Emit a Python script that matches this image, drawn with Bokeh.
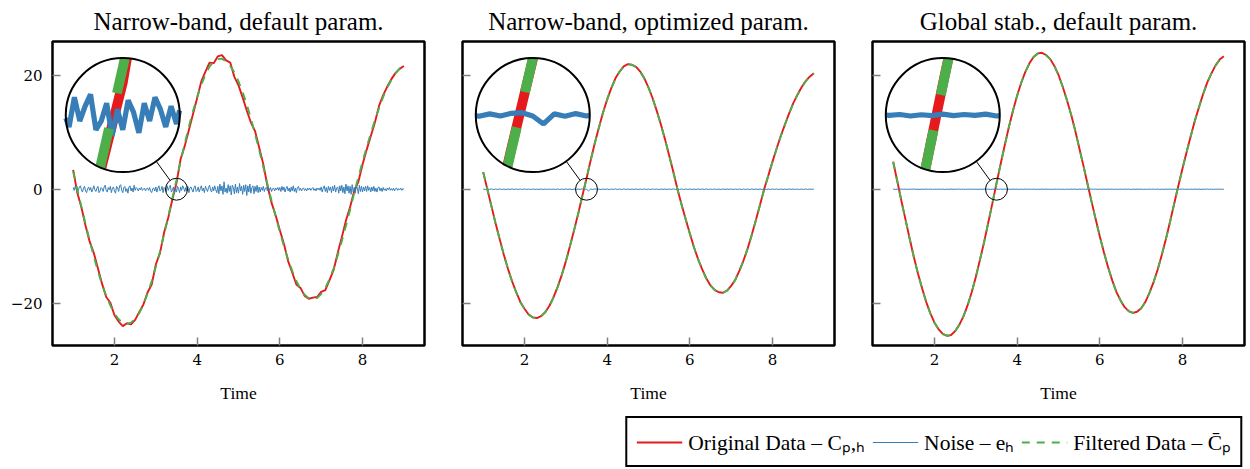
import numpy as np
from bokeh.plotting import figure
from bokeh.layouts import row, column
from bokeh.models import FixedTicker, Legend, LegendItem
from bokeh.core.properties import value
from bokeh.embed import file_html
from bokeh.resources import INLINE

# ---------------- data ----------------
TITLES = ["Narrow-band, default param.",
          "Narrow-band, optimized param.",
          "Global stab., default param."]
X_TICKS = [2, 4, 6, 8]
Y_TICKS = [-20, 0, 20]
Y_TICK_LABELS = {-20: "\u221220", 0: "0", 20: "20"}
X_LABEL = "Time"
LEGEND_LABELS = ["Original Data \u2013 C\u209a,\u2095",
                 "Noise \u2013 e\u2095",
                 "Filtered Data \u2013 C\u0304\u209a"]

# time grid of the filtered data (every 0.1)
time_coarse = np.linspace(1.0, 9.0, 81)

filtered_default = [
    3.1, 0.0, -3.1, -6.1, -9.0, -11.8, -14.4, -16.7, -18.7, -20.4,
    -21.8, -22.8, -23.4, -23.6, -23.4, -22.7, -21.7, -20.2, -18.3, -16.1,
    -13.6, -10.9, -7.9, -4.8, -1.6, 1.6, 4.9, 8.0, 11.0, 13.7,
    16.2, 18.3, 20.1, 21.5, 22.4, 22.8, 22.9, 22.4, 21.6, 20.5,
    18.9, 17.0, 14.9, 12.4, 9.7, 6.9, 3.9, 0.9, -2.0, -4.8,
    -7.5, -10.0, -12.3, -14.3, -16.1, -17.5, -18.5, -19.1, -19.3, -19.1,
    -18.4, -17.3, -15.8, -13.9, -11.6, -9.1, -6.4, -3.6, -0.6, 2.1,
    4.8, 7.3, 9.8, 12.1, 14.2, 16.2, 17.8, 19.2, 20.3, 21.2,
    21.6]

filtered_optimized = [
    3.0, 0.0, -3.0, -6.0, -8.8, -11.5, -14.0, -16.2, -18.1, -19.8,
    -21.0, -22.0, -22.5, -22.6, -22.3, -21.6, -20.5, -19.0, -17.2, -15.1,
    -12.7, -10.0, -7.2, -4.3, -1.2, 1.9, 5.0, 8.0, 10.8, 13.4,
    15.7, 17.7, 19.4, 20.6, 21.5, 21.9, 21.8, 21.4, 20.6, 19.4,
    17.8, 15.9, 13.7, 11.3, 8.7, 5.9, 3.0, 0.0, -2.7, -5.3,
    -7.8, -10.2, -12.3, -14.1, -15.7, -16.9, -17.7, -18.1, -18.2, -17.8,
    -17.0, -15.9, -14.3, -12.5, -10.4, -8.0, -5.4, -2.7, 0.0, 2.4,
    4.8, 7.1, 9.3, 11.3, 13.2, 15.0, 16.5, 17.8, 18.9, 19.7,
    20.3]

filtered_global = [
    4.8, 1.4, -2.1, -5.4, -8.7, -11.9, -14.8, -17.4, -19.8, -21.8,
    -23.4, -24.6, -25.4, -25.7, -25.6, -24.9, -23.8, -22.3, -20.4, -18.1,
    -15.4, -12.4, -9.3, -5.9, -2.5, 1.0, 4.4, 7.7, 10.9, 13.8,
    16.4, 18.7, 20.6, 22.1, 23.2, 23.8, 23.9, 23.5, 22.8, 21.6,
    20.0, 18.0, 15.7, 13.2, 10.4, 7.3, 4.2, 1.0, -2.2, -5.3,
    -8.3, -11.1, -13.7, -16.0, -18.0, -19.5, -20.7, -21.4, -21.7, -21.5,
    -20.9, -19.8, -18.2, -16.3, -14.1, -11.5, -8.7, -5.7, -2.5, 0.6,
    3.6, 6.5, 9.3, 12.0, 14.4, 16.7, 18.7, 20.3, 21.7, 22.7,
    23.3]

# noise, default parameters: every 0.025 from 1 to 9 (321 values)
noise_default = [
    0.3, -0.2, 0.5, 0.1, -0.6, -0.2, 0.4, 0.6, -0.1, -0.5,
    0.2, 0.5, -0.3, -0.6, 0.1, 0.4, -0.2, 0.3, -0.5, 0.0,
    0.6, -0.1, -0.4, 0.2, 0.5, -0.6, -0.3, 0.3, 0.1, -0.4,
    0.4, 0.7, -0.2, -0.5, 0.3, -0.1, 0.5, -0.6, 0.2, 0.4,
    -0.3, -0.7, 0.5, 0.2, -0.4, 0.6, 0.8, -0.2, -0.6, 0.3,
    0.5, -0.4, 0.1, -0.7, 0.4, 0.6, -0.3, 0.2, -0.5, 0.7,
    -0.2, 0.3, 0.1, -0.3, 0.2, -0.1, 0.3, -0.2, 0.0, 0.2,
    -0.3, 0.1, 0.2, -0.2, 0.3, -0.4, -0.6, 0.1, 0.2, -0.3,
    0.4, -0.5, 0.2, 0.6, -0.3, -0.1, 0.5, -0.6, 0.3, 0.1,
    -0.4, 0.6, -0.2, 0.3, 0.7, -0.5, -0.2, 0.4, -0.7, 0.2,
    -0.5, 0.5, 0.1, -0.6, 0.4, -0.2, 0.6, 0.2, -0.4, 0.3,
    -0.3, 0.5, -0.6, 0.2, 0.4, -0.1, -0.5, 0.3, 0.6, -0.4,
    -0.2, 0.4, -0.5, 0.1, 0.6, -0.3, 0.2, -0.6, 0.5, 0.1,
    -0.4, 0.3, 0.7, -0.2, -0.5, 0.4, -0.3, 0.6, -0.1, -0.6,
    0.5, -0.8, 0.9, -0.3, 0.6, -0.9, 1.3, -0.5, 0.2, -0.7,
    0.8, -0.4, 0.6, -1.0, 0.7, 0.3, -0.8, 0.9, -0.6, 0.4,
    -0.7, 1.0, -0.3, 0.5, -0.9, 0.7, -0.4, 0.8, -1.1, 0.6,
    -0.5, 0.9, -0.7, 0.3, 0.6, -0.8, 0.5, -0.4, 0.7, -0.6,
    0.4, -0.5, 0.3, -0.2, 0.5, -0.4, 0.2, 0.3, -0.3, 0.4,
    -0.2, 0.3, -0.4, 0.1, 0.2, -0.3, 0.2, -0.1, 0.3, -0.2,
    0.3, -0.4, 0.5, -0.2, 0.4, -0.5, 0.1, 0.5, -0.3, 0.2,
    -0.5, 0.4, -0.3, 0.6, -0.4, 0.2, -0.6, 0.3, 0.5, -0.2,
    0.2, -0.3, 0.1, 0.2, -0.2, 0.1, -0.3, 0.2, -0.1, 0.2,
    -0.2, 0.1, 0.3, -0.2, 0.1, -0.3, 0.2, -0.1, 0.2, -0.2,
    0.4, -0.5, 0.2, 0.6, -0.4, 0.3, -0.6, 0.5, -0.2, 0.4,
    -0.6, 0.5, -0.3, 0.7, -0.5, 0.2, 0.4, -0.7, 0.6, -0.3,
    0.7, -0.6, 0.4, -0.8, 0.9, -0.3, 0.6, -0.7, 0.5, -0.9,
    0.8, -0.5, 0.3, -0.7, 0.6, 0.2, -0.8, 0.7, -0.4, 0.5,
    -0.5, 0.4, -0.3, 0.5, -0.4, 0.6, -0.2, 0.3, -0.5, 0.4,
    -0.3, 0.5, -0.4, 0.2, -0.5, 0.3, 0.4, -0.3, 0.2, -0.4,
    0.3, -0.2, 0.1, -0.3, 0.2, -0.1, 0.3, -0.2, 0.1, -0.2,
    0.2, -0.3, 0.1, 0.2, -0.2, 0.1, -0.1, 0.2, -0.2, 0.1,
    0.0]

# noise, optimized parameters: every 0.05 (161 values)
noise_optimized = [
    0.03, -0.04, 0.05, -0.02, 0.04, -0.05, 0.03, -0.03, 0.05, -0.04,
    0.02, -0.05, 0.04, -0.03, 0.05, -0.03, 0.04, -0.04, 0.03, -0.02,
    0.05, -0.04, 0.03, -0.05, 0.04, -0.03, 0.02, -0.03, 0.04, -0.05,
    0.03, -0.02, 0.03, -0.03, 0.02, -0.03, 0.04, -0.04, 0.03, -0.04,
    0.05, -0.03, 0.04, -0.05, 0.03, -0.04, 0.04, -0.03, 0.06, 0.08,
    -0.03, -0.30, 0.04, -0.04, 0.05, -0.03, 0.03, -0.05, 0.04, -0.03,
    0.04, -0.05, 0.03, -0.03, 0.05, -0.04, 0.03, -0.04, 0.05, -0.03,
    0.04, -0.05, 0.03, -0.03, 0.04, -0.05, 0.03, -0.03, 0.05, -0.04,
    0.03, -0.04, 0.05, -0.03, 0.04, -0.05, 0.03, -0.03, 0.04, -0.04,
    0.03, -0.03, 0.05, -0.04, 0.03, -0.03, 0.04, -0.05, 0.03, -0.03,
    0.04, -0.04, 0.03, -0.05, 0.05, -0.03, 0.04, -0.03, 0.05, -0.04,
    0.03, -0.03, 0.04, -0.04, 0.03, -0.05, 0.05, -0.03, 0.04, -0.03,
    0.05, -0.04, 0.03, -0.03, 0.04, -0.05, 0.04, -0.03, 0.03, -0.04,
    0.05, -0.05, 0.04, -0.03, 0.03, -0.04, 0.05, -0.04, 0.03, -0.03,
    0.04, -0.03, 0.04, -0.05, 0.03, -0.04, 0.03, -0.04, 0.05, -0.03,
    0.04, -0.03, 0.03, -0.04, 0.03, -0.03, 0.04, -0.03, 0.03, -0.02,
    0.02]

# noise, global stabilization: every 0.05 (161 values)
noise_global = [
    0.02, -0.03, 0.01, -0.02, 0.03, -0.01, 0.02, -0.03, 0.02, -0.01,
    0.03, -0.02, 0.01, -0.03, 0.02, -0.02, 0.03, -0.01, 0.02, -0.03,
    0.01, -0.02, 0.03, -0.01, 0.02, -0.03, 0.01, -0.02, 0.03, -0.02,
    0.02, -0.01, 0.03, -0.02, 0.01, -0.03, 0.02, -0.01, 0.03, -0.02,
    0.01, -0.03, 0.02, -0.02, 0.03, -0.01, 0.02, -0.03, 0.01, -0.02,
    0.03, -0.02, 0.02, -0.01, 0.03, -0.03, 0.01, -0.02, 0.02, -0.01,
    0.02, -0.03, 0.01, -0.02, 0.03, -0.01, 0.02, -0.02, 0.03, -0.03,
    0.01, -0.02, 0.02, -0.01, 0.03, -0.02, 0.01, -0.03, 0.02, -0.01,
    0.03, -0.02, 0.01, -0.03, 0.02, -0.02, 0.03, -0.01, 0.02, -0.03,
    0.02, -0.01, 0.03, -0.02, 0.01, -0.03, 0.02, -0.01, 0.03, -0.02,
    0.01, -0.03, 0.02, -0.02, 0.03, -0.01, 0.02, -0.03, 0.01, -0.02,
    0.03, -0.02, 0.02, -0.01, 0.03, -0.03, 0.01, -0.02, 0.02, -0.01,
    0.02, -0.03, 0.01, -0.02, 0.03, -0.01, 0.02, -0.02, 0.03, -0.03,
    0.01, -0.02, 0.02, -0.01, 0.03, -0.02, 0.01, -0.03, 0.02, -0.01,
    0.03, -0.02, 0.01, -0.03, 0.02, -0.02, 0.03, -0.01, 0.02, -0.03,
    0.02, -0.01, 0.03, -0.02, 0.01, -0.03, 0.02, -0.01, 0.03, -0.02,
    0.01]

PANELS = [
    (filtered_default, noise_default),
    (filtered_optimized, noise_optimized),
    (filtered_global, noise_global),
]

# ---------------- style / layout ----------------
RED, BLUE, GREEN = "#e41a1c", "#377eb8", "#4daf4a"
TEXT_FONT = "Liberation Serif"
TICK_FONT = "DejaVu Serif"
X_RANGE = (0.5, 9.5)
Y_RANGE = (-27.4, 25.9)
FW, FH = 372, 304
BORDERS = [(52, 19), (19, 19), (19, 6)]   # (left, right) border of each panel
PAGE_W = 1250
TITLE_H = 39          # height of the title strip
TITLE_BASELINE = 21   # page y of the title baseline
LW_MAIN = 1.9
LW_NOISE = 1.0
DASH_MAIN = "8 7"

# spy / magnifier
ZOOM_AT = (3.5, 0.0)      # data point that is magnified
INSET_AT = (2.2, 13.0)    # centre of the magnifying lens
MAG = 5.2
R_BIG = 57.0              # screen px
R_SMALL = R_BIG / MAG
SX = FW / (X_RANGE[1] - X_RANGE[0])
SY = FH / (Y_RANGE[1] - Y_RANGE[0])


def magnify_clip(xs, ys):
    """Map data into the lens (screen-uniform magnification) and clip to its circle."""
    xs = np.asarray(xs, float)
    ys = np.asarray(ys, float)
    u = MAG * (xs - ZOOM_AT[0]) * SX
    v = MAG * (ys - ZOOM_AT[1]) * SY
    pieces, cur = [], []
    for i in range(len(u) - 1):
        ax, ay = u[i], v[i]
        dx, dy = u[i + 1] - ax, v[i + 1] - ay
        A = dx * dx + dy * dy
        B = 2 * (ax * dx + ay * dy)
        C = ax * ax + ay * ay - R_BIG ** 2
        disc = B * B - 4 * A * C
        if A == 0 or disc <= 0:
            if cur:
                pieces.append(cur)
                cur = []
            continue
        sq = np.sqrt(disc)
        t1, t2 = (-B - sq) / (2 * A), (-B + sq) / (2 * A)
        lo, hi = max(0.0, t1), min(1.0, t2)
        if lo >= hi:
            if cur:
                pieces.append(cur)
                cur = []
            continue
        if not cur or lo > 0:
            if cur:
                pieces.append(cur)
            cur = [(ax + lo * dx, ay + lo * dy)]
        cur.append((ax + hi * dx, ay + hi * dy))
        if hi < 1.0:
            pieces.append(cur)
            cur = []
    if cur:
        pieces.append(cur)
    mx = [[INSET_AT[0] + p[0] / SX for p in pc] for pc in pieces]
    my = [[INSET_AT[1] + p[1] / SY for p in pc] for pc in pieces]
    return mx, my


def make_panel(filtered, noise, first, bl, br):
    p = figure(frame_width=FW, frame_height=FH, x_range=X_RANGE, y_range=Y_RANGE,
               output_backend="svg", toolbar_location=None,
               min_border_left=bl, min_border_right=br,
               min_border_top=2, min_border_bottom=60)
    p.outline_line_color = "black"
    p.outline_line_width = 2.5
    p.outline_line_alpha = 1.0
    p.xgrid.visible = False
    p.ygrid.visible = False
    p.background_fill_color = "white"
    p.border_fill_color = "white"

    p.xaxis.ticker = FixedTicker(ticks=X_TICKS)
    p.yaxis.ticker = FixedTicker(ticks=Y_TICKS)
    for ax in (p.xaxis[0], p.yaxis[0]):
        ax.axis_line_color = None
        ax.major_tick_in = 8
        ax.major_tick_out = 0
        ax.minor_tick_line_color = None
        ax.major_tick_line_color = "#808080"
        ax.major_tick_line_width = 1.5
        ax.major_label_text_font = TICK_FONT
        ax.major_label_text_font_size = "15px"
        ax.major_label_text_color = "black"
    p.xaxis.major_label_standoff = 8
    p.yaxis.major_label_standoff = 10
    p.xaxis.axis_label = X_LABEL
    p.xaxis.axis_label_text_font = TEXT_FONT
    p.xaxis.axis_label_text_font_size = "17.5px"
    p.xaxis.axis_label_text_font_style = "normal"
    p.xaxis.axis_label_text_color = "black"
    p.xaxis.axis_label_standoff = 15
    if first:
        p.yaxis.major_label_overrides = Y_TICK_LABELS
    else:
        p.yaxis.major_label_overrides = {t: "" for t in Y_TICKS}

    filt = np.asarray(filtered, float)
    nz = np.asarray(noise, float)
    time_noise = np.linspace(1.0, 9.0, len(nz))
    stride = (len(nz) - 1) // (len(filt) - 1)
    original = filt + nz[::stride]

    p.line(time_coarse, original, line_color=RED, line_width=LW_MAIN)
    p.line(time_noise, nz, line_color=BLUE, line_width=LW_NOISE)
    p.line(time_coarse, filt, line_color=GREEN, line_width=LW_MAIN, line_dash=DASH_MAIN)

    # lens: white disc, magnified clipped curves, outline, small circle, connector
    p.circle(x=[INSET_AT[0]], y=[INSET_AT[1]], radius=R_BIG, radius_units="screen",
             fill_color="white", line_color=None)
    mx, my = magnify_clip(time_coarse, original)
    p.multi_line(mx, my, line_color=RED, line_width=LW_MAIN * MAG)
    mx, my = magnify_clip(time_noise, nz)
    p.multi_line(mx, my, line_color=BLUE, line_width=LW_NOISE * MAG)
    mx, my = magnify_clip(time_coarse, filt)
    p.multi_line(mx, my, line_color=GREEN, line_width=LW_MAIN * MAG, line_dash="40 36")
    p.circle(x=[INSET_AT[0]], y=[INSET_AT[1]], radius=R_BIG, radius_units="screen",
             fill_color=None, line_color="black", line_width=2)
    p.circle(x=[ZOOM_AT[0]], y=[ZOOM_AT[1]], radius=R_SMALL, radius_units="screen",
             fill_color=None, line_color="black", line_width=1)
    du = (ZOOM_AT[0] - INSET_AT[0]) * SX
    dv = (ZOOM_AT[1] - INSET_AT[1]) * SY
    L = np.hypot(du, dv)
    ux, uy = du / L, dv / L
    p.segment(x0=[INSET_AT[0] + R_BIG * ux / SX], y0=[INSET_AT[1] + R_BIG * uy / SY],
              x1=[ZOOM_AT[0] - R_SMALL * ux / SX], y1=[ZOOM_AT[1] - R_SMALL * uy / SY],
              line_color="black", line_width=1)
    return p


figs = [make_panel(f, n, i == 0, *BORDERS[i]) for i, (f, n) in enumerate(PANELS)]

# title strip: one title centred over each panel frame (pixel coordinates)
centres, left = [], 0
for bl, br in BORDERS:
    centres.append(left + bl + FW / 2)
    left += bl + FW + br
tf = figure(width=PAGE_W, height=TITLE_H, toolbar_location=None, output_backend="svg",
            min_border=0, x_range=(0, PAGE_W), y_range=(0, TITLE_H))
tf.axis.visible = False
tf.xgrid.visible = False
tf.ygrid.visible = False
tf.outline_line_color = None
tf.text(x=centres, y=[TITLE_H - TITLE_BASELINE] * 3, text=TITLES,
        text_align="center", text_baseline="alphabetic",
        text_font=value(TEXT_FONT), text_font_size="25px", text_color="black")

# legend strip (glyph renderers hold off-screen points, only their legend swatches show)
lf = figure(width=1244, height=64, toolbar_location=None, output_backend="svg",
            min_border=0, x_range=(0, 1), y_range=(0, 1))
lf.axis.visible = False
lf.xgrid.visible = False
lf.ygrid.visible = False
lf.outline_line_color = None
off = ([-5, -4], [-5, -4])
r1 = lf.line(*off, line_color=RED, line_width=LW_MAIN)
r2 = lf.line(*off, line_color=BLUE, line_width=LW_NOISE)
r3 = lf.line(*off, line_color=GREEN, line_width=LW_MAIN, line_dash=DASH_MAIN)
legend = Legend(items=[LegendItem(label=LEGEND_LABELS[0], renderers=[r1]),
                       LegendItem(label=LEGEND_LABELS[1], renderers=[r2]),
                       LegendItem(label=LEGEND_LABELS[2], renderers=[r3])],
                orientation="horizontal", location="bottom_right",
                border_line_color="black", border_line_width=2, border_line_alpha=1,
                label_text_font=TEXT_FONT, label_text_font_size="21.5px",
                label_text_color="black",
                glyph_width=46, glyph_height=26, label_standoff=6,
                spacing=7, padding=9, margin=2)
lf.add_layout(legend)

layout = column(tf, row(*figs, spacing=0), lf, spacing=0)
open("out.html", "w").write(file_html(layout, INLINE))
